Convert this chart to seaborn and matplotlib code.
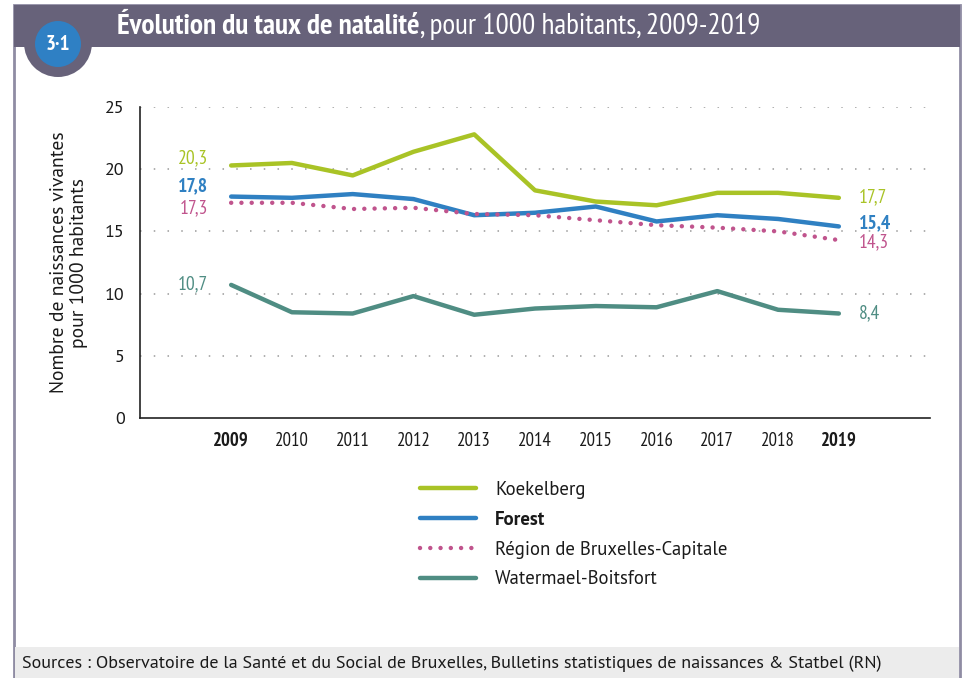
import matplotlib
matplotlib.use("Agg")
import numpy as np
import pandas as pd
import seaborn as sns
import matplotlib.pyplot as plt
from matplotlib.patches import Rectangle, Circle

# données (taux de natalité pour 1000 habitants)
annees = list(range(2009, 2020))
koekelberg = [20.3, 20.5, 19.5, 21.4, 22.8, 18.3, 17.4, 17.1, 18.1, 18.1, 17.7]
forest = [17.8, 17.7, 18.0, 17.6, 16.3, 16.5, 17.0, 15.8, 16.3, 16.0, 15.4]
region = [17.3, 17.3, 16.8, 16.9, 16.4, 16.3, 15.9, 15.5, 15.3, 15.0, 14.3]
watermael = [10.7, 8.5, 8.4, 9.8, 8.3, 8.8, 9.0, 8.9, 10.2, 8.7, 8.4]
series = ["Koekelberg", "Forest", "Région de Bruxelles-Capitale", "Watermael-Boitsfort"]
couleurs = ["#a9c326", "#2f80c2", "#c0548d", "#4f8d83"]

df = pd.DataFrame({"annee": annees, "Koekelberg": koekelberg, "Forest": forest,
                   "Région de Bruxelles-Capitale": region,
                   "Watermael-Boitsfort": watermael})

sns.set_theme(style="white")
plt.rcParams["font.family"] = ["PT Sans", "DejaVu Sans"]
NARROW = ["PT Sans Narrow", "DejaVu Sans"]

W, H = 965, 678
fig = plt.figure(figsize=(W / 100, H / 100), dpi=100)

# fond / cadre en pixels
bg = fig.add_axes([0, 0, 1, 1], zorder=0)
bg.set_xlim(0, W)
bg.set_ylim(H, 0)
bg.axis("off")
bg.add_patch(Rectangle((14, 5), 946, 680, facecolor="white", edgecolor="#8f8ca3", lw=2))
bg.add_patch(Rectangle((14, 5), 946, 42, facecolor="#67627a", edgecolor="none"))
bg.add_patch(Rectangle((15, 647), 944, 40, facecolor="#ececec", edgecolor="none"))
bg.add_patch(Circle((58, 43), 34, facecolor="#67627a", edgecolor="none"))
bg.add_patch(Circle((58, 44), 23, facecolor="#2f80c4", edgecolor="none"))
bg.text(58, 45, "3·1", color="white", fontsize=15, fontweight="bold", family=NARROW,
        ha="center", va="center")

t1 = bg.text(117, 27, "Évolution du taux de natalité", color="white", fontsize=21.2,
             fontweight="bold", family=NARROW, ha="left", va="center")
r = fig.canvas.get_renderer()
x2 = t1.get_window_extent(r).x1
bg.text(x2, 27, ", pour 1000 habitants, 2009-2019", color="white", fontsize=21.2,
        family=NARROW, ha="left", va="center")

bg.text(22, 664, "Sources : Observatoire de la Santé et du Social de Bruxelles, "
        "Bulletins statistiques de naissances & Statbel (RN)",
        color="#1a1a1a", fontsize=13.05, ha="left", va="center")

# graphique
ax = fig.add_axes([140 / W, 1 - 418 / H, 790 / W, 311 / H], zorder=1)
ax.patch.set_alpha(0)
for nom, col in zip(series, couleurs):
    if nom.startswith("Région"):
        sns.lineplot(data=df, x="annee", y=nom, ax=ax, color=col, lw=3.2,
                     linestyle=(0, (0.01, 2.3)), dash_capstyle="round", label=nom)
    else:
        sns.lineplot(data=df, x="annee", y=nom, ax=ax, color=col, lw=3.2,
                     solid_capstyle="round", label=nom)

ax.set_xlim(2007.5, 2020.5)
ax.set_ylim(0, 25)
ax.set_yticks([0, 5, 10, 15, 20, 25])
ax.set_xticks(annees)
ax.set_xticklabels([str(a) for a in annees], family=NARROW, fontsize=13.5)
ax.set_yticklabels(["0", "5", "10", "15", "20", "25"], fontsize=13)
for lab in ax.get_xticklabels():
    if lab.get_text() in ("2009", "2019"):
        lab.set_fontweight("bold")
ax.tick_params(axis="both", length=0, colors="#1a1a1a")
ax.tick_params(axis="x", pad=10)
ax.tick_params(axis="y", pad=11)
ax.set_xlabel("")
ax.set_ylabel("Nombre de naissances vivantes\npour 1000 habitants", fontsize=14,
              color="#1a1a1a", linespacing=1.1)
ax.yaxis.set_label_coords(-0.066, 0.5)
for y in [5, 10, 15, 20, 25]:
    ax.axhline(y, color="#9a9a9a", lw=1.1, linestyle=(0, (1, 8)), zorder=0)
sns.despine(ax=ax, top=True, right=True)
ax.spines["left"].set_color("#222222")
ax.spines["bottom"].set_color("#222222")
ax.spines["left"].set_linewidth(1.2)
ax.spines["bottom"].set_linewidth(1.2)

# étiquettes de valeurs début / fin
valeurs = [koekelberg, forest, region, watermael]
decal_g = [7, 10, -5, 1]
decal_d = [1, 3, -2, 0]
for vals, col, nom, dg, dd in zip(valeurs, couleurs, series, decal_g, decal_d):
    poids = "bold" if nom == "Forest" else "normal"
    ax.annotate(f"{vals[0]:.1f}".replace(".", ","), (annees[0], vals[0]),
                xytext=(-23, dg), textcoords="offset pixels", ha="right", va="center",
                color=col, fontsize=14, fontweight=poids, family=NARROW)
    ax.annotate(f"{vals[-1]:.1f}".replace(".", ","), (annees[-1], vals[-1]),
                xytext=(20, dd), textcoords="offset pixels", ha="left", va="center",
                color=col, fontsize=14, fontweight=poids, family=NARROW)

# légende
leg = ax.legend(loc="upper left", bbox_to_anchor=(420 / W, 1 - 481 / H),
                bbox_transform=fig.transFigure, frameon=False, fontsize=13.5,
                handlelength=3.0, handletextpad=1.0, labelspacing=0.63,
                borderpad=0, borderaxespad=0)
leg.get_texts()[1].set_fontweight("bold")
for line in leg.get_lines():
    line.set_linewidth(3.2)
for t in leg.get_texts():
    t.set_color("#1a1a1a")

fig.savefig("out.png", dpi=100)
